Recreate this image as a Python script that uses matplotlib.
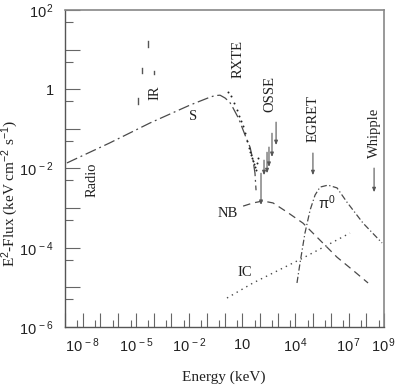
import matplotlib
matplotlib.use("Agg")
import matplotlib.pyplot as plt
from matplotlib.ticker import FixedLocator, FuncFormatter, NullFormatter
import numpy as np

plt.rcParams['mathtext.fontset'] = 'custom'
plt.rcParams['mathtext.rm'] = 'Liberation Sans'
plt.rcParams['mathtext.it'] = 'Liberation Sans'

# ---- data (log10 of energy in keV, log10 of E^2 flux) ----
s_logE = [-8.89, -6.5, -4.20, -1.95, -0.82, -0.54, -0.25, 0.03, 0.30, 0.48, 0.80, 1.05, 1.25, 1.44, 1.61, 1.72, 1.78]
s_logF = [-1.86, -1.36, -0.85, -0.40, -0.20, -0.16, -0.15, -0.22, -0.33, -0.47, -0.74, -1.03, -1.26, -1.46, -1.79, -2.12, -2.55]

nb_logE = [1.05, 1.61, 2.17, 2.74, 3.53, 4.43, 5.39, 6.35, 7.25, 8.10]
nb_logF = [-2.95, -2.87, -2.82, -2.87, -3.10, -3.38, -3.81, -4.24, -4.57, -4.89]

ic_logE = [0.14, 1.61, 4.43, 7.08]
ic_logF = [-5.27, -4.89, -4.26, -3.63]

pi_logE = [4.09, 4.26, 4.54, 4.83, 5.11, 5.39, 5.84, 6.35, 6.91, 7.82, 8.89]
pi_logF = [-4.89, -4.39, -3.63, -3.05, -2.67, -2.47, -2.42, -2.49, -2.85, -3.38, -3.88]

ir_logE = [-4.88, -4.65, -4.32, -3.98]
ir_logF = [-0.30, 0.48, 1.14, 0.42]
ir_err = [0.08, 0.06, 0.07, 0.04]

rxte_logE = [0.20, 0.37, 0.54, 0.71, 0.82, 0.93, 1.05, 1.16, 1.27, 1.38, 1.44, 1.50, 1.55, 1.61, 1.67, 1.72, 1.78, 1.84, 1.89]
rxte_logF = [-0.07, -0.17, -0.35, -0.53, -0.68, -0.80, -0.93, -1.11, -1.31, -1.48, -1.59, -1.66, -1.74, -1.81, -1.89, -1.96, -2.04, -1.86, -1.74]

osse_logE = [2.06, 2.23, 2.40, 2.51, 2.68, 2.91]
osse_top = [-2.12, -1.79, -1.59, -1.46, -1.11, -0.83]
osse_bot = [-2.92, -2.17, -2.12, -1.96, -1.71, -1.41]

ul_logE = [4.99, 8.44]          # EGRET, Whipple upper limits
ul_top = [-1.61, -1.99]
ul_bot = [-2.17, -2.60]

labels = ["Radio", "IR", "S", "RXTE", "OSSE", "EGRET", "Whipple", "NB", r"$\pi^0$", "IC"]
label_logE = [-7.48, -3.92, -1.78, 0.76, 2.57, 4.99, 8.49, 0.20, 5.79, 1.16]
label_logF = [-2.29, -0.10, -0.70, 0.76, -0.12, -0.75, -1.11, -3.13, -2.87, -4.62]
label_rot = [90, 90, 0, 90, 90, 90, 90, 0, 0, 0]

xtick_label_exps = [-8, -5, -2, 1, 4, 7, 9]
ytick_label_exps = [2, 0, -2, -4, -6]

p = lambda a: 10.0 ** np.asarray(a)

fig = plt.figure(figsize=(4.0, 3.86), dpi=100)
ax = fig.add_axes([0.1625, 0.153, 0.7975, 0.821])
ax.set_xscale('log')
ax.set_yscale('log')
ax.set_xlim(1e-9, 1e9)
ax.set_ylim(1e-6, 1e2)

col = '#4a4a4a'
ax.plot(p(s_logE), p(s_logF), color=col, lw=0.9, ls=(0, (9, 3, 1.5, 3)))
ax.plot(p(nb_logE), p(nb_logF), color=col, lw=0.9, ls=(0, (6, 4)))
ax.plot(p(ic_logE), p(ic_logF), color=col, lw=1.0, ls=(0, (1, 3)))
ax.plot(p(pi_logE), p(pi_logF), color=col, lw=0.9, ls=(0, (5, 2, 1, 2)))

# IR points (short vertical bars)
for e, f, d in zip(ir_logE, ir_logF, ir_err):
    ax.plot([10**e, 10**e], [10**(f - d), 10**(f + d)], color='#555555', lw=1.0)

# RXTE points
ax.scatter(p(rxte_logE), p(rxte_logF), s=2, color='#222222', linewidths=0, zorder=3)

# OSSE upper-limit arrows
for e, t, b in zip(osse_logE, osse_top, osse_bot):
    ax.annotate('', xy=(10**e, 10**b), xytext=(10**e, 10**t),
                arrowprops=dict(arrowstyle='-|>,head_length=0.25,head_width=0.1',
                                color='#555555', lw=0.8, shrinkA=0, shrinkB=0))
# EGRET / Whipple
for e, t, b in zip(ul_logE, ul_top, ul_bot):
    ax.annotate('', xy=(10**e, 10**b), xytext=(10**e, 10**t),
                arrowprops=dict(arrowstyle='-|>,head_length=0.25,head_width=0.1',
                                color='#555555', lw=0.8, shrinkA=0, shrinkB=0))

for s, e, f, r in zip(labels, label_logE, label_logF, label_rot):
    ax.text(10**e, 10**f, s, rotation=r, ha='center', va='center',
            fontsize=10.5, family='Liberation Serif', color='#222222')

# axes styling
for sp in ['left', 'bottom']:
    ax.spines[sp].set_color('#555555')
    ax.spines[sp].set_linewidth(1.0)
for sp in ['top', 'right']:
    ax.spines[sp].set_color('#888888')
    ax.spines[sp].set_linewidth(1.2)

ax.xaxis.set_major_locator(FixedLocator(10.0 ** np.arange(-9, 10)))
ax.xaxis.set_minor_locator(FixedLocator(5 * 10.0 ** np.arange(-10, 9)))
ax.yaxis.set_major_locator(FixedLocator(10.0 ** np.arange(-6, 3)))
ax.yaxis.set_minor_locator(FixedLocator(5 * 10.0 ** np.arange(-7, 2)))

def xfmt(v, pos):
    k = int(round(np.log10(v)))
    if k not in xtick_label_exps:
        return ''
    if k == 1:
        return r'$10$'
    return r'$10^{\,%d}$' % k

def yfmt(v, pos):
    k = int(round(np.log10(v)))
    if k not in ytick_label_exps:
        return ''
    if k == 0:
        return r'$1$'
    return r'$10^{\,%d}$' % k

ax.xaxis.set_major_formatter(FuncFormatter(xfmt))
ax.yaxis.set_major_formatter(FuncFormatter(yfmt))
ax.xaxis.set_minor_formatter(NullFormatter())
ax.yaxis.set_minor_formatter(NullFormatter())

ax.tick_params(axis='x', which='major', direction='in', length=10, width=0.8, color='#666666',
               labelsize=10.5, pad=7, top=False, labelcolor='#222222')
ax.tick_params(axis='x', which='minor', direction='in', length=5, width=0.8, color='#666666', top=False)
ax.tick_params(axis='y', which='major', direction='in', length=11, width=0.8, color='#666666',
               labelsize=10.5, pad=8, right=False, labelcolor='#222222')
ax.tick_params(axis='y', which='minor', direction='in', length=6, width=0.8, color='#666666', right=False)

fig.text(0.56, 0.022, 'Energy (keV)', ha='center', va='center',
         fontsize=11, family='Liberation Serif', color='#222222')
fig.text(0.025, 0.50, r'E$^2$-Flux (keV cm$^{-2}$ s$^{-1}$)', ha='center', va='center',
         rotation=90, fontsize=11, family='Liberation Serif', color='#222222')

fig.savefig('out.png', dpi=100)
